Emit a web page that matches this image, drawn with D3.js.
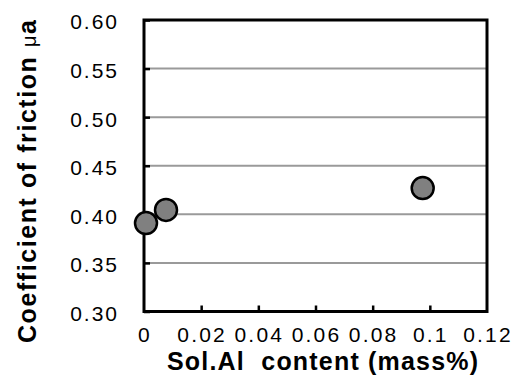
<!DOCTYPE html>
<html>
<head>
<meta charset="utf-8">
<script src="https://cdn.jsdelivr.net/npm/d3@7"></script>
<style>
  html, body { margin: 0; padding: 0; background: #fff; }
  svg { display: block; }
  text { font-family: "Liberation Sans", Arial, sans-serif; fill: #000; }
</style>
</head>
<body>
<svg id="chart" width="514" height="389"></svg>
<script>
// Sol.Al content (mass%) against friction coefficient
const alContent = [0.0007, 0.0077, 0.0975];
const friction  = [0.391, 0.4045, 0.427];

const xTicks = [0, 0.02, 0.04, 0.06, 0.08, 0.1, 0.12];
const xTickLabels = ["0", "0.02", "0.04", "0.06", "0.08", "0.1", "0.12"];
const yTicks = [0.30, 0.35, 0.40, 0.45, 0.50, 0.55, 0.60];
const yTickLabels = ["0.30", "0.35", "0.40", "0.45", "0.50", "0.55", "0.60"];

const svg = d3.select("#chart");
const m = { left: 144, right: 487, top: 20, bottom: 311.5 };

const x = d3.scaleLinear().domain([0, 0.12]).range([m.left, m.right]);
const y = d3.scaleLinear().domain([0.30, 0.60]).range([m.bottom, m.top]);

// horizontal gridlines
svg.append("g")
  .selectAll("line")
  .data(yTicks.filter(v => v > 0.30 && v < 0.60))
  .join("line")
  .attr("x1", m.left).attr("x2", m.right)
  .attr("y1", d => y(d)).attr("y2", d => y(d))
  .attr("stroke", "#9a9a9a").attr("stroke-width", 2);

// y axis: inward ticks, labels on the left
const yAxis = svg.append("g")
  .attr("transform", `translate(${m.left},0)`)
  .call(d3.axisRight(y).tickValues(yTicks).tickSize(6).tickFormat(""));
yAxis.select(".domain").remove();
yAxis.selectAll("line").attr("stroke", "#000").attr("stroke-width", 2.5);

svg.append("g")
  .selectAll("text")
  .data(yTicks)
  .join("text")
  .attr("x", 119)
  .attr("y", d => y(d) + 2)
  .attr("dy", "0.35em")
  .attr("text-anchor", "end")
  .attr("font-size", 21)
  .attr("letter-spacing", 2)
  .text((d, i) => yTickLabels[i]);

// x axis: inward ticks, labels below
const xAxis = svg.append("g")
  .attr("transform", `translate(0,${m.bottom})`)
  .call(d3.axisTop(x).tickValues(xTicks.filter(v => v > 0 && v < 0.12)).tickSize(6).tickFormat(""));
xAxis.select(".domain").remove();
xAxis.selectAll("line").attr("stroke", "#000").attr("stroke-width", 2.5);

svg.append("g")
  .selectAll("text")
  .data(xTicks)
  .join("text")
  .attr("x", d => x(d) + 1)
  .attr("y", 342)
  .attr("text-anchor", "middle")
  .attr("font-size", 21)
  .attr("letter-spacing", 2.2)
  .text((d, i) => xTickLabels[i]);

// plot frame
svg.append("rect")
  .attr("x", m.left).attr("y", m.top)
  .attr("width", m.right - m.left).attr("height", m.bottom - m.top)
  .attr("fill", "none").attr("stroke", "#000").attr("stroke-width", 3);

// data points
svg.append("g")
  .selectAll("circle")
  .data(alContent.map((v, i) => [v, friction[i]]))
  .join("circle")
  .attr("cx", d => x(d[0]))
  .attr("cy", d => y(d[1]))
  .attr("r", 11)
  .attr("fill", "#808080")
  .attr("stroke", "#000")
  .attr("stroke-width", 2.5);

// axis titles
svg.append("text")
  .attr("x", 167).attr("y", 370)
  .attr("font-size", 25).attr("font-weight", "bold")
  .attr("xml:space", "preserve")
  .attr("textLength", 311).attr("lengthAdjust", "spacing")
  .text("Sol.Al  content (mass%)");

const yt = svg.append("text")
  .attr("transform", "translate(36,343) rotate(-90)")
  .attr("font-size", 25).attr("font-weight", "bold")
  .attr("textLength", 323).attr("lengthAdjust", "spacing");
yt.append("tspan").text("Coefficient of friction ");
yt.append("tspan").attr("font-weight", "normal").attr("font-size", 20).text("μ");
yt.append("tspan").text("a");
</script>
</body>
</html>
